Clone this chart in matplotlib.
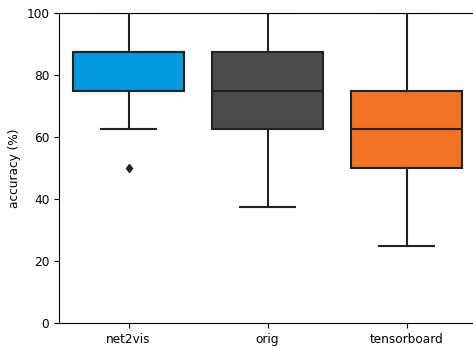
import matplotlib
matplotlib.use("Agg")
import matplotlib.pyplot as plt

plt.rcParams["font.size"] = 8.7

categories = ["net2vis", "orig", "tensorboard"]
whislo = [62.5, 37.5, 25.0]
q1 = [75.0, 62.5, 50.0]
med = [87.5, 75.0, 62.5]
q3 = [87.5, 87.5, 75.0]
whishi = [100.0, 100.0, 100.0]
fliers = [[50.0], [], []]
colors = ["#0099dd", "#4a4a4a", "#f07423"]

fig = plt.figure(figsize=(4.73, 3.46), dpi=100)
ax = fig.add_axes([59 / 473, 23 / 346, 417 / 473, 310 / 346])

stats = []
for i, c in enumerate(categories):
    stats.append(dict(label=c, whislo=whislo[i], q1=q1[i], med=med[i],
                      q3=q3[i], whishi=whishi[i], fliers=fliers[i]))

lc = "#222222"
bp = ax.bxp(stats, positions=range(len(categories)), widths=0.8,
            patch_artist=True,
            boxprops=dict(edgecolor=lc, linewidth=1.5),
            medianprops=dict(color=lc, linewidth=1.5),
            whiskerprops=dict(color=lc, linewidth=1.5),
            capprops=dict(color=lc, linewidth=1.5),
            flierprops=dict(marker="d", markerfacecolor=lc, markeredgecolor=lc,
                            markersize=4.5))
for patch, col in zip(bp["boxes"], colors):
    patch.set_facecolor(col)
for cap in bp["caps"]:
    cap.set_clip_on(True)

ax.set_xlim(-0.5, 2.5)
ax.set_ylim(0, 100)
ax.set_yticks([0, 20, 40, 60, 80, 100])
ax.set_xticks(range(len(categories)))
ax.set_xticklabels(categories)
ax.set_ylabel("accuracy (%)")
ax.spines["right"].set_visible(False)

fig.savefig("out.png", dpi=100)
